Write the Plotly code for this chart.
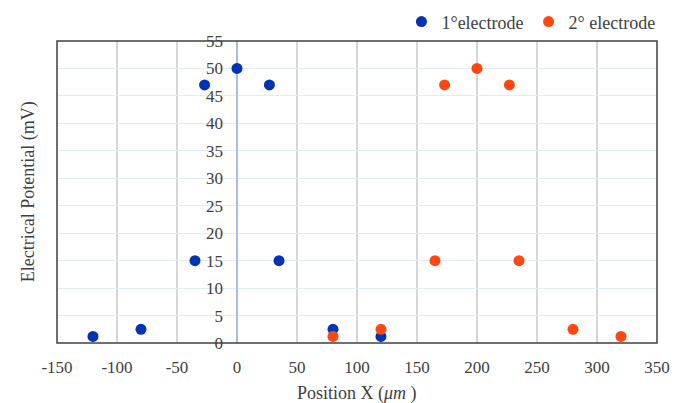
import plotly.graph_objects as go

x_e1 = [-120, -80, -35, -27, 0, 27, 35, 80, 120]
y_e1 = [1.2, 2.5, 15, 47, 50, 47, 15, 2.5, 1.2]
x_e2 = [80, 120, 165, 173, 200, 227, 235, 280, 320]
y_e2 = [1.2, 2.5, 15, 47, 50, 47, 15, 2.5, 1.2]
x_ticks = [-150, -100, -50, 0, 50, 100, 150, 200, 250, 300, 350]
y_ticks = [0, 5, 10, 15, 20, 25, 30, 35, 40, 45, 50, 55]

FONT = "Liberation Serif, Times New Roman, serif"
BLUE = "#0333B5"
ORANGE = "#FF4712"
TXT = "#404040"

fig = go.Figure()
fig.add_trace(go.Scatter(x=x_e1, y=y_e1, mode="markers", name="1°electrode",
                         marker=dict(color=BLUE, size=11)))
fig.add_trace(go.Scatter(x=x_e2, y=y_e2, mode="markers", name="2° electrode",
                         marker=dict(color=ORANGE, size=11)))

fig.update_layout(
    width=674, height=395,
    margin=dict(l=49, r=25, t=33, b=60, autoexpand=False),
    paper_bgcolor="white", plot_bgcolor="white",
    font=dict(family=FONT, size=17, color=TXT),
    showlegend=True,
    legend=dict(orientation="h", xref="container", yref="container",
                x=0.968, xanchor="right", y=0.965, yanchor="middle",
                font=dict(family=FONT, size=18, color=TXT),
                itemwidth=30, traceorder="normal", bgcolor="rgba(0,0,0,0)"),
    xaxis=dict(range=[-150, 350], tickvals=x_ticks, ticktext=[str(v) for v in x_ticks],
               automargin=False,
               showgrid=True, gridcolor="#D6D6D6", gridwidth=1.5,
               zeroline=True, zerolinecolor="#A8BEDD", zerolinewidth=1.5,
               showline=False, ticks="", ticklabelstandoff=12,
               tickfont=dict(family=FONT, size=17, color=TXT)),
    yaxis=dict(range=[0, 55], tickvals=y_ticks, ticktext=[str(v) for v in y_ticks],
               anchor="free", position=0.3, automargin=False,
               showgrid=True, gridcolor="#E3EBF6", gridwidth=1,
               zeroline=False, showline=False, ticks="",
               ticklabelstandoff=14,
               tickfont=dict(family=FONT, size=17, color=TXT)),
    shapes=[dict(type="rect", xref="paper", yref="paper", x0=0, x1=1, y0=0, y1=1,
                 line=dict(color="#404040", width=1.5), layer="above")],
    annotations=[
        dict(text="Electrical Potential (mV)", textangle=-90,
             xref="paper", yref="paper", x=-0.048, y=0.5,
             xanchor="center", yanchor="middle", showarrow=False,
             font=dict(family=FONT, size=18, color=TXT)),
        dict(text="Position X (<i>μm</i> )",
             xref="paper", yref="paper", x=0.5, y=-0.167,
             xanchor="center", yanchor="middle", showarrow=False,
             font=dict(family=FONT, size=18, color=TXT)),
    ],
)

fig.write_html("out.html")
